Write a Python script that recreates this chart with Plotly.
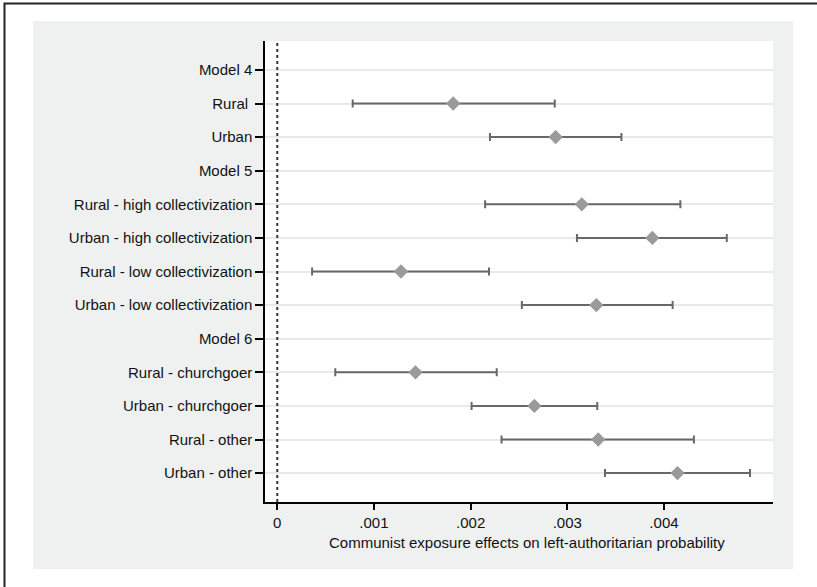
import plotly.graph_objects as go

categories = ["Model 4", "Rural ", "Urban", "Model 5",
              "Rural - high collectivization", "Urban - high collectivization",
              "Rural - low collectivization", "Urban - low collectivization",
              "Model 6", "Rural - churchgoer", "Urban - churchgoer",
              "Rural - other", "Urban - other"]
estimate = [None, 0.00182, 0.00288, None, 0.00315, 0.00388, 0.00128, 0.00330,
            None, 0.00143, 0.00266, 0.00332, 0.00414]
ci_low = [None, 0.00078, 0.00220, None, 0.00215, 0.00310, 0.00036, 0.00253,
          None, 0.00060, 0.00201, 0.00232, 0.00339]
ci_high = [None, 0.00287, 0.00356, None, 0.00417, 0.00465, 0.00219, 0.00409,
           None, 0.00227, 0.00331, 0.00431, 0.00489]
x_ticks = [0, 0.001, 0.002, 0.003, 0.004]
x_tick_labels = ["0", ".001", ".002", ".003", ".004"]
x_title = "Communist exposure effects on left-authoritarian probability"

positions = list(range(1, len(categories) + 1))
err_plus = [None if e is None else h - e for e, h in zip(estimate, ci_high)]
err_minus = [None if e is None else e - l for e, l in zip(estimate, ci_low)]

FONT = "Liberation Sans, Arial, sans-serif"
W_FIG, H_FIG = 817, 587
L, R, T, B = 265, 44, 41, 85
PW = W_FIG - L - R
PH = H_FIG - T - B


def fx(px):
    return (px - L) / PW


def fy(py):
    return (H_FIG - B - py) / PH


fig = go.Figure()
fig.add_trace(go.Scatter(
    x=estimate, y=positions, mode="markers",
    marker=dict(symbol="diamond", size=11, color="#9a9a9a", line=dict(width=0)),
    error_x=dict(type="data", symmetric=False, array=err_plus, arrayminus=err_minus,
                 color="#686868", thickness=2, width=4),
    showlegend=False, hoverinfo="skip"))

shapes = [
    # outer border (top and left edges visible)
    dict(type="rect", xref="paper", yref="paper", x0=fx(4.5), x1=fx(840),
         y0=fy(620), y1=fy(3.5), fillcolor="white",
         line=dict(color="#222222", width=2), layer="below"),
    # light grey frame background
    dict(type="rect", xref="paper", yref="paper", x0=fx(33), x1=fx(793),
         y0=fy(569), y1=fy(21), fillcolor="#eff1f1", line=dict(width=0), layer="below"),
    # white plot area
    dict(type="rect", xref="paper", yref="paper", x0=0, x1=1, y0=0, y1=1,
         fillcolor="white", line=dict(width=0), layer="below"),
    # dotted reference line at zero
    dict(type="line", xref="x", yref="paper", x0=0, x1=0, y0=0, y1=1,
         line=dict(color="#333333", width=2, dash="3px,3px"), layer="above"),
]

fig.update_layout(
    width=W_FIG, height=H_FIG,
    margin=dict(l=L, r=R, t=T, b=B),
    paper_bgcolor="white", plot_bgcolor="white",
    font=dict(family=FONT, color="#111111"),
    shapes=shapes,
    xaxis=dict(range=[-0.000127, 0.005128], tickvals=x_ticks, ticktext=x_tick_labels,
               showgrid=False, zeroline=False, showline=True, linecolor="black",
               linewidth=1.5, ticks="outside", ticklen=6, tickwidth=1.5,
               tickcolor="black", tickfont=dict(size=15, family=FONT, color="#111111")),
    yaxis=dict(range=[13.86, 0.14], tickvals=positions, ticktext=categories,
               showgrid=True, gridcolor="#e9e9e9", gridwidth=2, zeroline=False,
               showline=True, linecolor="black", linewidth=1.5, ticks="outside",
               ticklen=8, tickwidth=1.5, tickcolor="black",
               tickfont=dict(size=15, family=FONT, color="#111111")),
    annotations=[dict(text=x_title, xref="paper", yref="paper", x=fx(527), y=fy(542),
                      xanchor="center", yanchor="middle", showarrow=False,
                      font=dict(size=15, family=FONT, color="#111111"))],
)

fig.write_html("out.html", config={"displayModeBar": False},
               post_script="document.body.style.margin='0';document.body.style.overflow='hidden';")
